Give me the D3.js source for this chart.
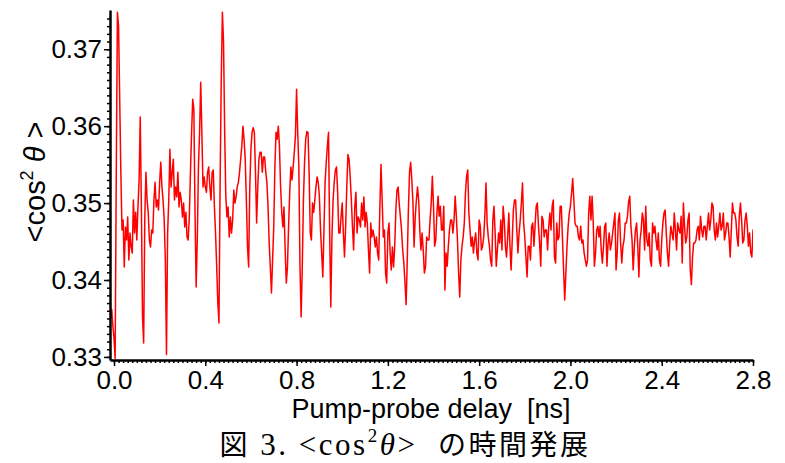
<!DOCTYPE html>
<html>
<head>
<meta charset="utf-8">
<script src="https://cdn.jsdelivr.net/npm/d3@7"></script>
<style>
  body { margin: 0; background: #fff; }
  svg { display: block; }
</style>
</head>
<body>
<svg id="svg" width="785" height="463"></svg>
<script>
// trace sampled every 5 ps, starting at -15 ps
const t0 = -0.015
const dt = 0.005

// <cos^2 theta>
const cos2 = [
  .3350, .3362, .3340, .3325, .3298, .3540, .3748, .3730, .3635, .3540,
  .3465, .3478, .3417, .3469, .3452, .3482, .3426, .3461, .3443, .3435,
  .3504, .3461, .3488, .3452, .3495, .3530, .3612, .3495, .3352, .3318,
  .3482, .3540, .3504, .3488, .3452, .3443, .3465, .3461, .3504, .3527,
  .3495, .3504, .3491, .3527, .3553, .3521, .3504, .3478, .3426, .3303,
  .3461, .3504, .3570, .3521, .3540, .3557, .3504, .3521, .3508, .3540,
  .3495, .3514, .3504, .3482, .3500, .3469, .3488, .3456, .3452, .3482,
  .3540, .3592, .3635, .3622, .3488, .3391, .3452, .3547, .3592, .3657,
  .3592, .3521, .3534, .3521, .3514, .3540, .3547, .3521, .3504, .3540,
  .3543, .3495, .3461, .3417, .3370, .3344, .3527, .3661, .3748, .3709,
  .3592, .3508, .3482, .3495, .3456, .3482, .3461, .3478, .3517, .3500,
  .3508, .3521, .3527, .3540, .3557, .3574, .3600, .3583, .3557, .3504,
  .3443, .3417, .3521, .3570, .3592, .3598, .3592, .3540, .3474, .3521,
  .3557, .3566, .3566, .3540, .3560, .3560, .3540, .3527, .3495, .3448,
  .3417, .3383, .3426, .3469, .3547, .3592, .3583, .3600, .3574, .3521,
  .3488, .3469, .3495, .3439, .3396, .3417, .3469, .3514, .3547, .3530,
  .3547, .3566, .3587, .3648, .3592, .3547, .3417, .3352, .3417, .3504,
  .3553, .3583, .3593, .3592, .3540, .3461, .3452, .3500, .3488, .3504,
  .3521, .3534, .3527, .3508, .3465, .3435, .3404, .3465, .3527, .3553,
  .3574, .3592, .3461, .3365, .3456, .3504, .3527, .3543, .3547, .3514,
  .3461, .3461, .3482, .3500, .3461, .3430, .3469, .3521, .3563, .3557,
  .3534, .3504, .3469, .3439, .3495, .3514, .3461, .3482, .3478, .3469,
  .3500, .3478, .3508, .3469, .3488, .3474, .3439, .3409, .3474, .3456,
  .3465, .3456, .3443, .3456, .3435, .3426, .3495, .3550, .3504, .3456,
  .3465, .3409, .3396, .3461, .3474, .3435, .3413, .3443, .3417, .3443,
  .3491, .3517, .3521, .3498, .3482, .3465, .3439, .3422, .3396, .3368,
  .3426, .3491, .3540, .3553, .3530, .3500, .3443, .3482, .3504, .3521,
  .3504, .3465, .3439, .3461, .3439, .3409, .3417, .3456, .3452, .3452,
  .3478, .3500, .3535, .3496, .3444, .3452, .3487, .3509, .3483, .3496,
  .3465, .3465, .3496, .3387, .3435, .3418, .3444, .3465, .3478, .3478,
  .3461, .3478, .3509, .3483, .3452, .3409, .3378, .3426, .3444, .3456,
  .3474, .3513, .3535, .3543, .3487, .3465, .3444, .3456, .3435, .3452,
  .3461, .3435, .3426, .3478, .3470, .3439, .3444, .3456, .3483, .3526,
  .3474, .3456, .3444, .3426, .3418, .3478, .3496, .3461, .3418, .3439,
  .3461, .3448, .3478, .3439, .3496, .3478, .3444, .3430, .3456, .3487,
  .3444, .3413, .3452, .3491, .3504, .3504, .3465, .3435, .3461, .3478,
  .3500, .3526, .3474, .3456, .3430, .3404, .3444, .3444, .3426, .3470,
  .3474, .3444, .3470, .3496, .3500, .3470, .3448, .3418, .3483, .3478,
  .3456, .3465, .3465, .3439, .3470, .3487, .3465, .3496, .3504, .3430,
  .3422, .3474, .3452, .3456, .3496, .3496, .3456, .3413, .3374, .3409,
  .3444, .3470, .3487, .3496, .3513, .3532, .3504, .3474, .3470, .3470,
  .3456, .3452, .3470, .3448, .3452, .3435, .3426, .3418, .3426, .3487,
  .3509, .3478, .3509, .3474, .3418, .3435, .3465, .3470, .3456, .3470,
  .3439, .3422, .3444, .3470, .3474, .3418, .3448, .3461, .3439, .3448,
  .3461, .3474, .3487, .3413, .3435, .3478, .3487, .3448, .3422, .3444,
  .3452, .3474, .3474, .3483, .3502, .3509, .3470, .3452, .3413, .3444,
  .3465, .3474, .3444, .3404, .3452, .3465, .3487, .3478, .3439, .3496,
  .3452, .3444, .3461, .3426, .3418, .3474, .3461, .3470, .3452, .3439,
  .3461, .3426, .3418, .3452, .3474, .3487, .3491, .3461, .3435, .3418,
  .3448, .3470, .3461, .3452, .3487, .3465, .3439, .3474, .3465, .3461,
  .3483, .3422, .3500, .3470, .3448, .3456, .3478, .3487, .3413, .3394,
  .3430, .3448, .3448, .3452, .3465, .3470, .3452, .3483, .3465, .3456,
  .3470, .3470, .3452, .3470, .3487, .3465, .3478, .3500, .3496, .3465,
  .3452, .3474, .3456, .3470, .3487, .3465, .3470, .3487, .3452, .3461,
  .3474, .3474, .3456, .3430, .3465, .3500, .3487, .3487, .3478, .3456,
  .3444, .3483, .3500, .3478, .3448, .3452, .3478, .3487, .3470, .3444,
  .3461, .3435, .3430, .3465, .3426
]
const delay = d3.range(cos2.length).map(i => t0 + i * dt)

const xTicks = [0, 0.4, 0.8, 1.2, 1.6, 2.0, 2.4, 2.8]
const yTicks = [0.33, 0.34, 0.35, 0.36, 0.37]

const svg = d3.select("#svg")

const plotLeft = 110, plotRight = 753, plotTop = 10, plotBottom = 360

const x = d3.scaleLinear()
  .domain([-0.0175, 2.8])
  .range([plotLeft, plotRight])

const y = d3.scaleLinear()
  .domain([0.3296, 0.3751])
  .range([plotBottom, plotTop])

svg.append("defs").append("clipPath").attr("id", "clip")
  .append("rect")
    .attr("x", plotLeft).attr("y", plotTop)
    .attr("width", plotRight - plotLeft).attr("height", plotBottom - plotTop)

const line = d3.line()
  .x((d, i) => x(delay[i]))
  .y(d => y(d))

svg.append("path")
  .datum(cos2)
  .attr("clip-path", "url(#clip)")
  .attr("fill", "none")
  .attr("stroke", "#ff0000")
  .attr("stroke-width", 1.5)
  .attr("stroke-linejoin", "round")
  .attr("d", line)

// minor ticks first, then major ticks with labels on top
svg.append("g")
  .attr("transform", `translate(0,${plotBottom})`)
  .call(d3.axisBottom(x).tickValues(d3.range(0, 2.801, 0.02)).tickSize(3).tickFormat(""))
  .call(g => g.select(".domain").remove())
  .call(g => g.selectAll("line").attr("stroke-width", 1.3))

svg.append("g")
  .attr("transform", `translate(${plotLeft},0)`)
  .call(d3.axisLeft(y).tickValues(d3.range(0.330, 0.3749, 0.001)).tickSize(3).tickFormat(""))
  .call(g => g.select(".domain").remove())
  .call(g => g.selectAll("line").attr("stroke-width", 1.3))

const xAxis = svg.append("g")
  .attr("transform", `translate(0,${plotBottom})`)
  .call(d3.axisBottom(x).tickValues(xTicks).tickSize(6).tickSizeOuter(0).tickPadding(5)
    .tickFormat(d3.format(".1f")))

const yAxis = svg.append("g")
  .attr("transform", `translate(${plotLeft},0)`)
  .call(d3.axisLeft(y).tickValues(yTicks).tickSize(6).tickSizeOuter(0).tickPadding(2)
    .tickFormat(d3.format(".2f")))

svg.selectAll(".domain").attr("stroke-width", 2.5)
svg.selectAll(".tick line").attr("stroke-width", 1.5)
svg.selectAll(".tick text")
  .attr("font-family", "Liberation Sans, Arial, sans-serif")
  .attr("font-size", 26)
  .attr("fill", "#000")

// axis titles
svg.append("text")
  .attr("x", 431)
  .attr("y", 418)
  .attr("text-anchor", "middle")
  .attr("font-family", "Liberation Sans, Arial, sans-serif")
  .attr("font-size", 27)
  .style("white-space", "pre")
  .text("Pump-probe delay  [ns]")

const yTitle = svg.append("text")
  .attr("transform", "translate(45,182) rotate(-90)")
  .attr("text-anchor", "middle")
  .attr("font-family", "Liberation Sans, Arial, sans-serif")
  .attr("font-size", 29)
  .style("white-space", "pre")
yTitle.append("tspan").text("<cos")
yTitle.append("tspan").attr("font-size", 18).attr("dy", -12).text("2")
yTitle.append("tspan").attr("dy", 12).attr("font-style", "italic").text(" θ")
yTitle.append("tspan").text(" >")

// caption
const cap = svg.append("text")
  .attr("x", 405)
  .attr("y", 455)
  .attr("text-anchor", "middle")
  .attr("font-family", "Liberation Serif, 'Noto Sans CJK JP', serif")
  .attr("font-size", 31)
  .attr("letter-spacing", 2.5)
  .style("white-space", "pre")
cap.append("tspan").attr("font-family", "'Noto Sans CJK JP'").attr("font-size", 28).text("図")
cap.append("tspan").text(" 3. <cos")
cap.append("tspan").attr("font-size", 19).attr("dy", -13).text("2")
cap.append("tspan").attr("dy", 13).attr("font-style", "italic").text("θ")
cap.append("tspan").text(">  ")
cap.append("tspan").attr("font-family", "'Noto Sans CJK JP'").attr("font-size", 28).text("の時間発展")
</script>
</body>
</html>
